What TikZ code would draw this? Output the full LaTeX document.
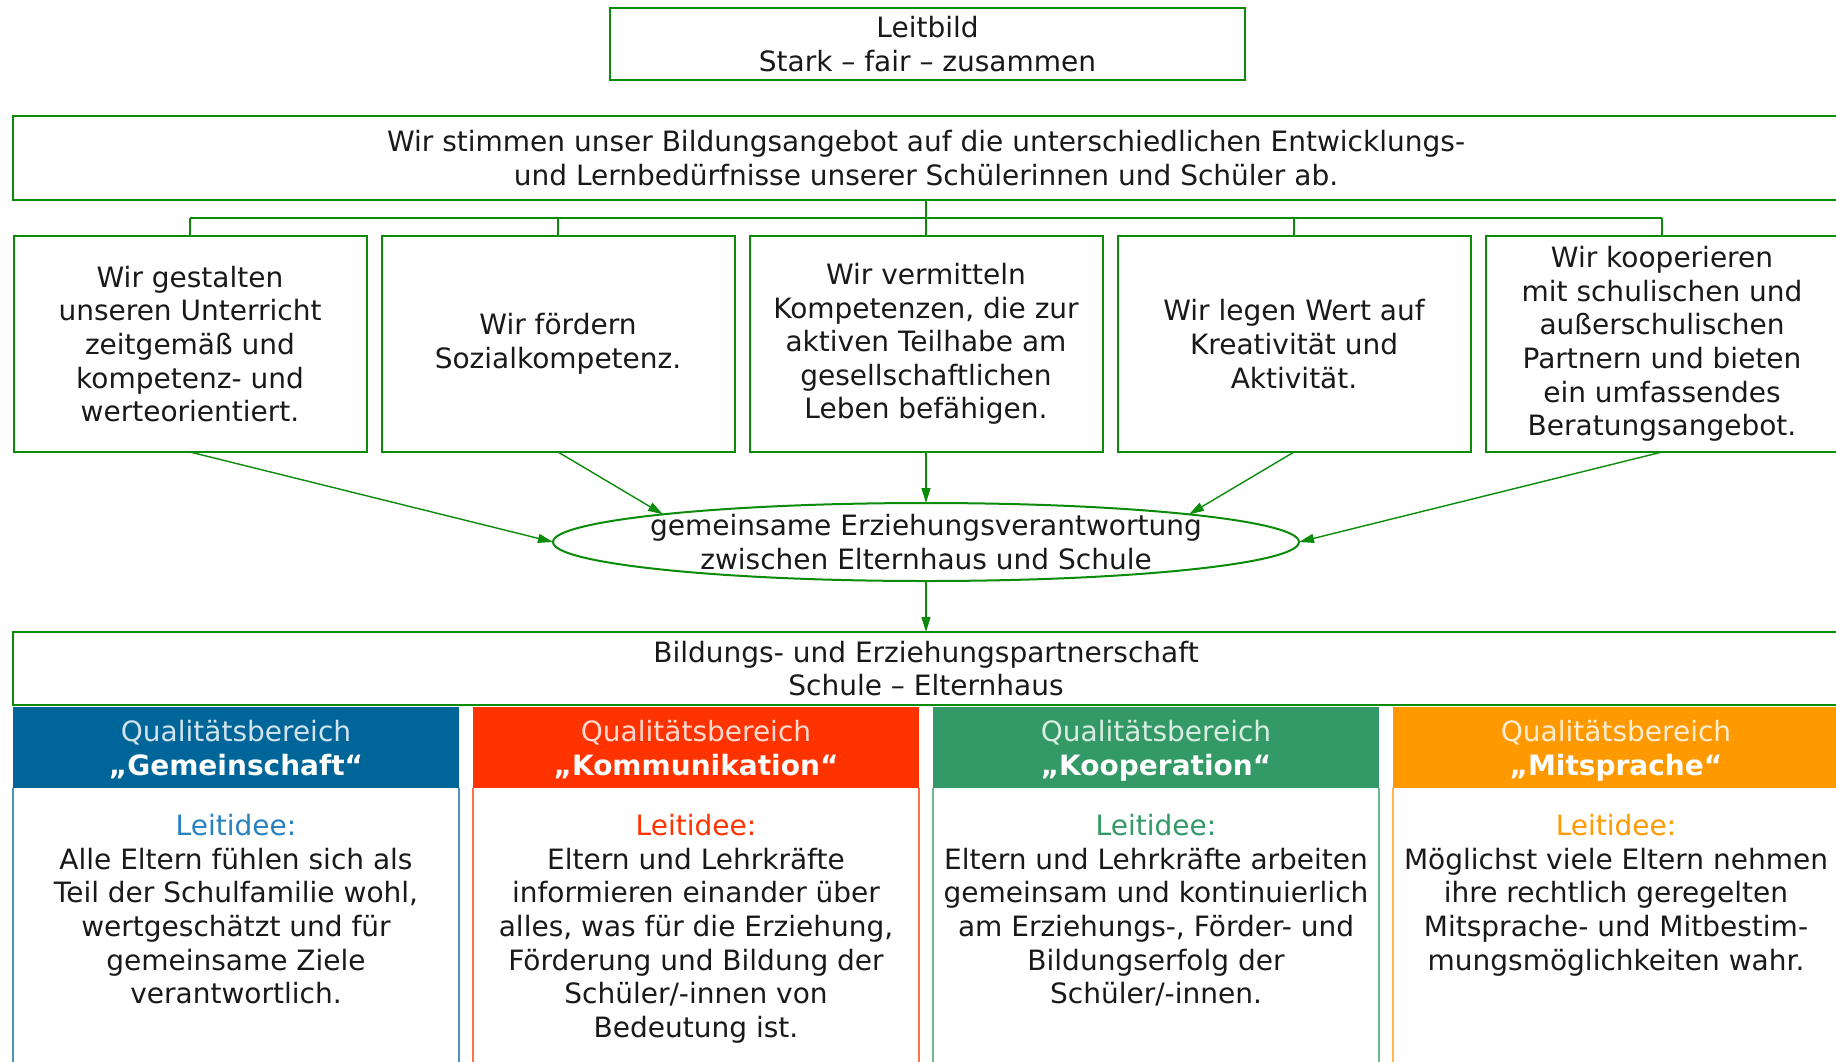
\documentclass[tikz,border=0pt]{standalone}
\usepackage{fontspec}
\setmainfont{DejaVu Sans}
\usetikzlibrary{arrows.meta,shapes.geometric}
\definecolor{grn}{RGB}{10,140,10}
\definecolor{qblue}{RGB}{0,102,153}
\definecolor{qred}{RGB}{255,51,0}
\definecolor{qgreen}{RGB}{51,153,102}
\definecolor{qorange}{RGB}{255,153,0}
\definecolor{txt}{RGB}{25,25,25}
\definecolor{lblue}{RGB}{40,130,190}
\newcommand{\mystr}{\vphantom{Äg}}
\begin{document}
\begin{tikzpicture}[x=0.5pt,y=-0.5pt,
  every node/.style={font=\fontsize{14}{16.8}\selectfont, text=txt},
  gbox/.style={draw=grn, line width=1pt, rectangle, inner sep=0pt, outer sep=0pt, align=center},
  sbox/.style={gbox, minimum width=176.5pt, minimum height=108pt},
  conn/.style={draw=grn, line width=1pt},
  arr/.style={draw=grn, line width=0.7pt, -{Triangle[length=7.5pt,width=4.5pt]}},
  lbl/.style={align=center, inner sep=0pt},
  hdr/.style={rectangle, inner sep=0pt, outer sep=0pt, minimum width=223pt, minimum height=40.5pt},
  hdrtext/.style={align=center, inner sep=0pt},
  body/.style={align=center, inner sep=0pt, anchor=north}
]
\useasboundingbox (0,0) rectangle (1836,1061);
\fill[white] (0,0) rectangle (1836,1061);
\clip (0,0) rectangle (1836,1061);

% top boxes
\node[gbox, minimum width=317.5pt, minimum height=36pt] (leit) at (927.5,44) {Leitbild\\Stark -- fair -- zusammen};
\node[gbox, minimum width=918.5pt, minimum height=42pt] (main) at (931.5,158) {};
\node[lbl] (maint) at (926,158) {Wir stimmen unser Bildungsangebot auf die unterschiedlichen Entwicklungs-\\und Lernbedürfnisse unserer Schülerinnen und Schüler ab.};

% five boxes
\node[sbox] (b1) at (190,344) {Wir gestalten\\unseren Unterricht\\zeitgemäß und\\kompetenz- und\\werteorientiert.};
\node[sbox] (b2) at (558,344) {Wir fördern\\Sozialkompetenz.};
\node[sbox] (b3) at (926,344) {Wir vermitteln\\Kompetenzen, die zur\\aktiven Teilhabe am\\gesellschaftlichen\\Leben befähigen.};
\node[sbox] (b4) at (1294,344) {Wir legen Wert auf\\Kreativität und\\Aktivität.};
\node[sbox] (b5) at (1662,344) {Wir kooperieren\\mit schulischen und\\außerschulischen\\Partnern und bieten\\ein umfassendes\\Beratungsangebot.};

% bus
\coordinate (bus) at (926,218);
\draw[conn] (b3 |- main.south) -- (b3.north);
\draw[conn] (b1 |- bus) -- (b5 |- bus);
\draw[conn] (b1 |- bus) -- (b1.north);
\draw[conn] (b2 |- bus) -- (b2.north);
\draw[conn] (b4 |- bus) -- (b4.north);
\draw[conn] (b5 |- bus) -- (b5.north);

% ellipse
\node[ellipse, draw=grn, line width=1pt, minimum width=373pt, minimum height=39pt, inner sep=0pt, outer sep=0pt] (ell) at (926,542) {};
\node[lbl] (ellt) at (926,542) {gemeinsame Erziehungsverantwortung\\zwischen Elternhaus und Schule};

\draw[arr] (b1.south) -- (ell.west);
\draw[arr] (b2.south) -- (ell.174);
\draw[arr] (b3.south) -- (ell.north);
\draw[arr] (b4.south) -- (ell.6);
\draw[arr] (b5.south) -- (ell.east);

% partnership box
\node[gbox, minimum width=918.5pt, minimum height=36.5pt] (part) at (931.5,668.5) {};
\node[lbl] (partt) at (926,668.5) {Bildungs- und Erziehungspartnerschaft\\Schule -- Elternhaus};
\draw[arr] (ell.south) -- (ell.south |- part.north);

% columns
\foreach \i/\x/\c/\n in {1/236/qblue/Gemeinschaft, 2/696/qred/Kommunikation, 3/1156/qgreen/Kooperation, 4/1616/qorange/Mitsprache}{
  \node[hdr, fill=\c] (h\i) at (\x,747.5) {};
  \node[hdrtext] (ht\i) at (\x,749) {\textcolor{white!82!\c}{\mystr Qualitätsbereich}\\\textcolor{white}{\bfseries\mystr „\n“}};
  \draw[\c!70, line width=0.6pt] (h\i.south west) -- ++(0,300);
  \draw[\c!70, line width=0.6pt] (h\i.south east) -- ++(0,300);
}
\node[body] (t1) at (236,814) {\textcolor{lblue}{Leitidee:}\\Alle Eltern fühlen sich als\\Teil der Schulfamilie wohl,\\wertgeschätzt und für\\gemeinsame Ziele\\verantwortlich.};
\node[body] (t2) at (696,814) {\textcolor{qred}{Leitidee:}\\Eltern und Lehrkräfte\\informieren einander über\\alles, was für die Erziehung,\\Förderung und Bildung der\\Schüler/-innen von\\Bedeutung ist.};
\node[body] (t3) at (1156,814) {\textcolor{qgreen}{Leitidee:}\\Eltern und Lehrkräfte arbeiten\\gemeinsam und kontinuierlich\\am Erziehungs-, Förder- und\\Bildungserfolg der\\Schüler/-innen.};
\node[body] (t4) at (1616,814) {\textcolor{qorange}{Leitidee:}\\Möglichst viele Eltern nehmen\\ihre rechtlich geregelten\\Mitsprache- und Mitbestim-\\mungsmöglichkeiten wahr.};
\end{tikzpicture}
\end{document}
